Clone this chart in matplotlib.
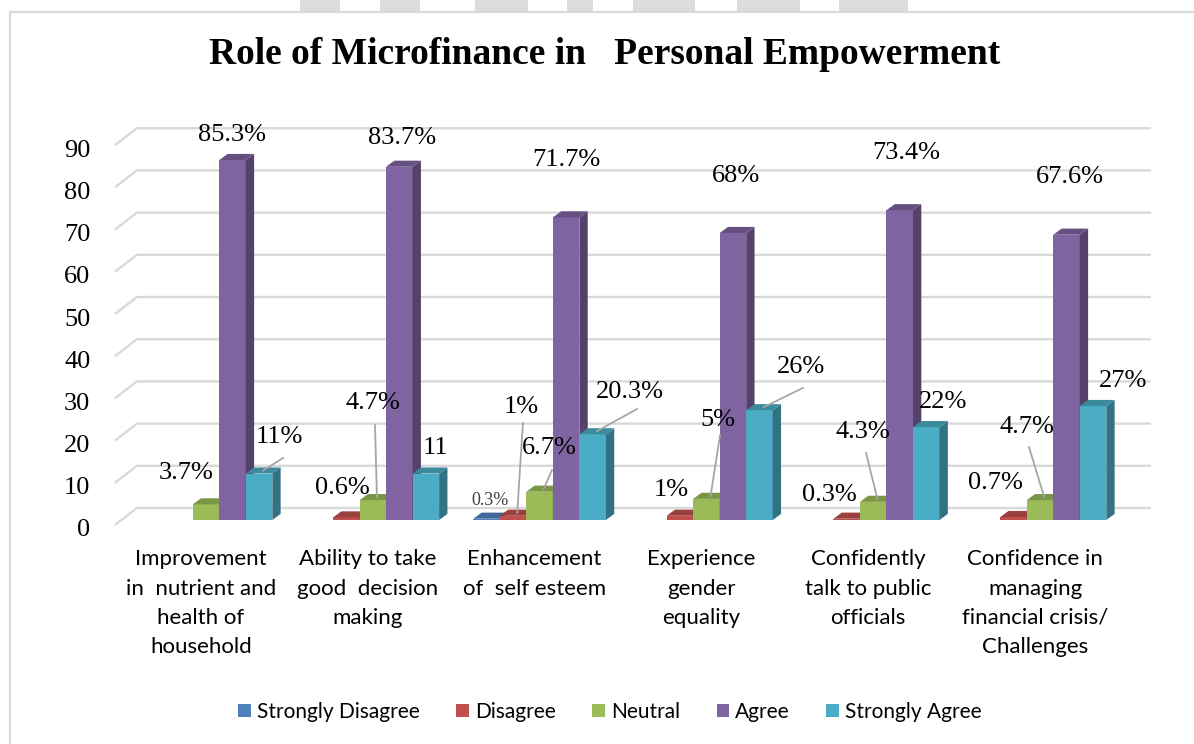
import matplotlib
matplotlib.use("Agg")
import matplotlib.pyplot as plt
from matplotlib.patches import Polygon, Rectangle
from matplotlib.lines import Line2D
from matplotlib.transforms import ScaledTranslation

# ---------------- data ----------------
categories = [
    "Improvement\nin  nutrient and\nhealth of\nhousehold",
    "Ability to take\ngood  decision\nmaking",
    "Enhancement\nof  self esteem",
    "Experience\ngender\nequality",
    "Confidently\ntalk to public\nofficials",
    "Confidence in\nmanaging\nfinancial crisis/\nChallenges",
]
series_names = ["Strongly Disagree", "Disagree", "Neutral", "Agree", "Strongly Agree"]
strongly_disagree = [0, 0, 0.3, 0, 0, 0]
disagree = [0, 0.6, 1, 1, 0.3, 0.7]
neutral = [3.7, 4.7, 6.7, 5, 4.3, 4.7]
agree = [85.3, 83.7, 71.7, 68, 73.4, 67.6]
strongly_agree = [11, 11, 20.3, 26, 22, 27]

sd_labels = [None, None, "0.3%", None, None, None]
disagree_labels = [None, "0.6%", "1%", "1%", "0.3%", "0.7%"]
neutral_labels = ["3.7%", "4.7%", "6.7%", "5%", "4.3%", "4.7%"]
agree_labels = ["85.3%", "83.7%", "71.7%", "68%", "73.4%", "67.6%"]
sa_labels = ["11%", "11", "20.3%", "26%", "22%", "27%"]

yticks = [0, 10, 20, 30, 40, 50, 60, 70, 80, 90]
title = "Role of Microfinance in   Personal Empowerment"

# ---------------- layout / style ----------------
front_colors = ["#4F81BD", "#C0504D", "#9BBB59", "#8064A2", "#4BACC6"]

def shade(hexc, f):
    r, g, b = (int(hexc[i:i + 2], 16) / 255 for i in (1, 3, 5))
    return (r * f, g * f, b * f)

W, H = 1194, 744
fig = plt.figure(figsize=(W / 100, H / 100), dpi=100)

# pixel mapping: x px = 206 + 166.8*x ; y px = 520 - 4.22*y
xlim = (-0.66, 5.8)
ylim = (-5, 100)
px_per_x, px_per_y = 166.8, 4.22
left_px = 206 + xlim[0] * px_per_x
right_px = 206 + xlim[1] * px_per_x
top_px = 520 - ylim[1] * px_per_y
bot_px = 520 - ylim[0] * px_per_y
ax = fig.add_axes([left_px / W, 1 - bot_px / H, (right_px - left_px) / W, (bot_px - top_px) / H])
ax.set_xlim(*xlim)
ax.set_ylim(*ylim)
for s in ax.spines.values():
    s.set_visible(False)

bw = 0.159          # bar width (data)
ddx, ddy = 0.05, 1.45      # bar depth offset
wall_dx, wall_dy = 0.132, 4.02  # back wall offset
grid_front_x = -0.546
grid_right_x = 5.665
grid_col = "#d9d9d9"

# gridlines on back wall
for v in yticks:
    yf = v - 1.18
    ax.plot([grid_front_x, grid_front_x + wall_dx, grid_right_x],
            [yf, yf + wall_dy, yf + wall_dy], color=grid_col, lw=1.7,
            solid_capstyle="butt", zorder=1)

# ticks
ax.set_yticks(yticks)
ax.set_yticklabels([str(v) for v in yticks], fontsize=19, family="Liberation Serif")
ax.tick_params(axis="y", length=0, pad=4)
for lab in ax.get_yticklabels():
    lab.set_transform(lab.get_transform() + ScaledTranslation(0, -8 / 100, fig.dpi_scale_trans))

ax.set_xticks(range(len(categories)))
ax.set_xticklabels(categories, fontsize=16, family="Lato", linespacing=1.57)
ax.tick_params(axis="x", length=0, pad=6)
for lab in ax.get_xticklabels():
    lab.set_transform(lab.get_transform() + ScaledTranslation(-5 / 100, 0, fig.dpi_scale_trans))

# 3D-looking bars
all_series = [strongly_disagree, disagree, neutral, agree, strongly_agree]
z = 3
bar_tops = {}
for i in range(len(categories)):
    for k, vals in enumerate(all_series):
        v = vals[i]
        xc = i + (k - 2) * bw
        bar_tops[(k, i)] = (xc + ddx / 2, v + ddy / 2)
        if v <= 0:
            continue
        col = front_colors[k]
        x0, x1 = xc - bw / 2, xc + bw / 2
        ax.bar(xc, v, width=bw, color=col, edgecolor="none", zorder=z)
        ax.add_patch(Polygon([(x1, 0), (x1 + ddx, ddy), (x1 + ddx, v + ddy), (x1, v)],
                             closed=True, facecolor=shade(col, 0.66), edgecolor="none", zorder=z))
        ax.add_patch(Polygon([(x0, v), (x0 + ddx, v + ddy), (x1 + ddx, v + ddy), (x1, v)],
                             closed=True, facecolor=shade(col, 0.8), edgecolor="none", zorder=z))
        z += 1

# data labels: (text, position, leader anchor near label or None)
label_font = dict(fontsize=19, family="Liberation Serif", color="black", ha="center", va="center", zorder=50)
agree_pos = [(0.156, 91.2), (1.175, 90.5), (2.16, 85.3), (3.18, 81.5), (4.2, 87.0), (5.18, 81.3)]
sa_pos = [(0.44, 19.7), (1.375, 17.0), (2.54, 30.3), (3.57, 36.3), (4.42, 28.0), (5.5, 33.0)]
sa_lead = [(0.462, 14.7), None, (2.584, 26.3), (3.579, 31.3), None, None]
neutral_pos = [(-0.12, 11.1), (1.0, 27.7), (2.06, 17.0), (3.07, 23.7), (3.94, 20.8), (4.92, 22.0)]
neutral_lead = [None, (1.013, 22.5), (2.074, 11.8), (3.082, 20.1), (3.957, 15.9), (4.934, 17.3)]
dis_pos = [None, (0.815, 7.6), (1.89, 26.8), (2.79, 7.1), (3.74, 5.9), (4.73, 8.8)]
dis_lead = [None, None, (1.90, 23.0), None, None, None]
sd_pos = [None, None, (1.70, 4.7), None, None, None]

lead_col = "#a6a6a6"
def put_labels(k, texts, positions, leads=None, **kw):
    for i, t in enumerate(texts):
        if t is None:
            continue
        if leads is not None and leads[i] is not None:
            bx, by = bar_tops[(k, i)]
            lx, ly = leads[i]
            ax.plot([bx, lx], [by, ly], color=lead_col, lw=1.3, zorder=45)
        opts = dict(label_font)
        opts.update(kw)
        ax.text(positions[i][0], positions[i][1], t, **opts)

put_labels(3, agree_labels, agree_pos)
put_labels(4, sa_labels, sa_pos, sa_lead)
put_labels(2, neutral_labels, neutral_pos, neutral_lead)
put_labels(1, disagree_labels, dis_pos, dis_lead)
put_labels(0, sd_labels, sd_pos, None, fontsize=13, color="#404040")

# title
fig.text(605 / W, 1 - 55 / H, title, ha="center", va="center", fontsize=27,
         fontweight="bold", family="Liberation Serif")

# legend
handles = [Rectangle((0, 0), 1, 1, facecolor=c, edgecolor="none") for c in front_colors]
fig.legend(handles, series_names, loc="center", bbox_to_anchor=(610 / W, 1 - 712 / H),
           ncol=5, frameon=False, prop=dict(family="Lato", size=15),
           handlelength=0.6, handleheight=0.6, handletextpad=0.3, columnspacing=1.75)

# chart frame
fig.add_artist(Line2D([10 / W, 10 / W], [0, 1 - 11.5 / H], transform=fig.transFigure,
                      color="#d9d9d9", lw=1.6))
fig.add_artist(Line2D([10 / W, 1], [1 - 11.5 / H, 1 - 11.5 / H], transform=fig.transFigure,
                      color="#d9d9d9", lw=1.6))
# faint watermark blocks at the very top
for a, b in [(300, 340), (380, 420), (475, 528), (567, 593), (633, 695), (737, 800), (839, 908)]:
    fig.add_artist(Rectangle((a / W, 1 - 11 / H), (b - a) / W, 11 / H, transform=fig.transFigure,
                             facecolor="#dcdcdc", edgecolor="none"))

fig.savefig("out.png", dpi=100)
